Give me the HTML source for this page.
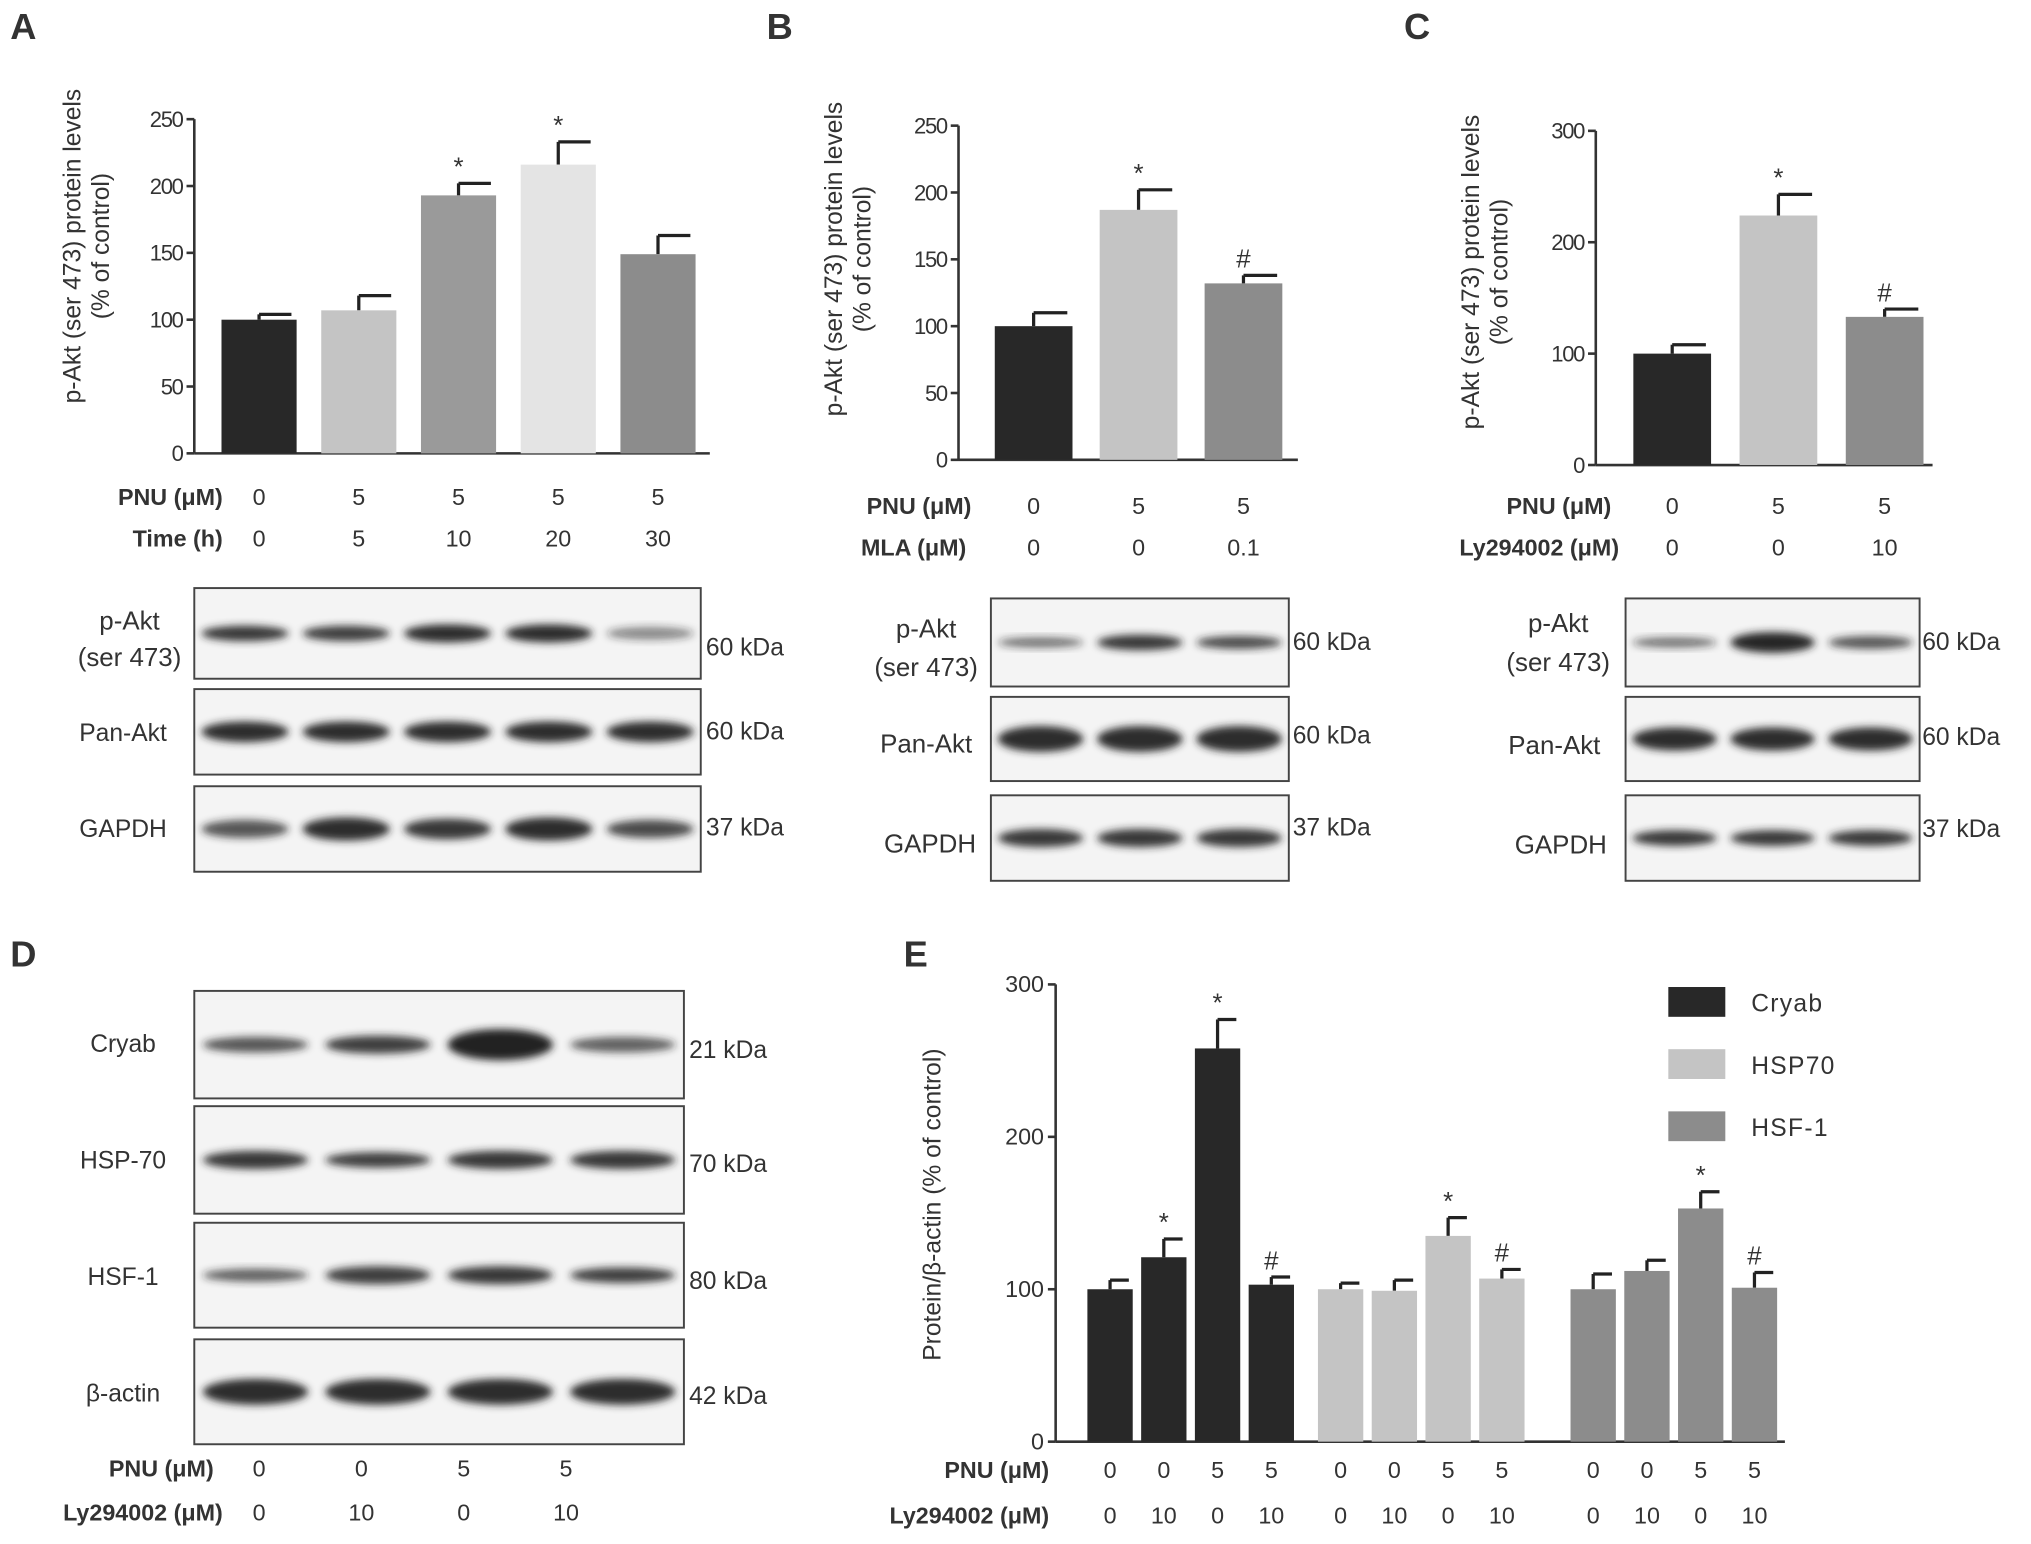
<!DOCTYPE html>
<html><head><meta charset="utf-8">
<style>
html,body{margin:0;padding:0;background:#fff;}
svg{display:block;font-family:"Liberation Sans",Arial,sans-serif;}
text{fill:#333;}
</style></head>
<body>
<svg id="fig" width="2031" height="1544" viewBox="0 0 1568 1192" xmlns="http://www.w3.org/2000/svg">
<defs><filter id="blur" x="-20%" y="-50%" width="140%" height="200%"><feGaussianBlur stdDeviation="3"/></filter></defs>
</svg>
<script>
// ---- Data ----
const aCategories = ['0|0','5|5','5|10','5|20','5|30'];
const aValues = [100, 107, 193, 216, 149];
const aErrors = [4, 11, 9, 17, 14];
const aStars = ['', '', '*', '*', ''];
const aTicks = [0, 50, 100, 150, 200, 250];

const bCategories = ['0|0','5|0','5|0.1'];
const bValues = [100, 187, 132];
const bErrors = [10, 15, 6];
const bStars = ['', '*', '#'];
const bTicks = [0, 50, 100, 150, 200, 250];

const cCategories = ['0|0','5|0','5|10'];
const cValues = [100, 224, 133];
const cErrors = [8, 19, 7];
const cStars = ['', '*', '#'];
const cTicks = [0, 100, 200, 300];

const eGroups = ['Cryab', 'HSP70', 'HSF-1'];
const eCryab = [100, 121, 258, 103];
const eCryabErr = [6, 12, 19, 5];
const eHsp70 = [100, 99, 135, 107];
const eHsp70Err = [4, 7, 12, 6];
const eHsf1 = [100, 112, 153, 101];
const eHsf1Err = [10, 7, 11, 10];
const eMarks = ['', '*', '*', '#'];
const eMarks2 = ['', '', '*', '#'];
const eTicks = [0, 100, 200, 300];
const ePnu = ['0','0','5','5'];
const eLy = ['0','10','0','10'];

const svg = document.getElementById('fig');
const NS = 'http://www.w3.org/2000/svg';
function el(tag, attrs, parent){
  const e = document.createElementNS(NS, tag);
  for (const k in attrs) e.setAttribute(k, attrs[k]);
  (parent||svg).appendChild(e);
  return e;
}
function txt(x,y,s,size,anchor,name,extra){
  const t = el('text',Object.assign({x:x,y:y,'font-size':size,'text-anchor':anchor||'middle'},extra||{}));
  t.textContent = s;
  
  
  return t;
}

function barChart(cfg){
  const g = el('g',{});
  
  
  const y = v => cfg.y0 - (v - 0) / cfg.max * (cfg.y0 - cfg.yTop);
  // axes
  el('line',{x1:cfg.x0,y1:cfg.yTop,x2:cfg.x0,y2:cfg.y0,stroke:'#333','stroke-width':2},g);
  el('line',{x1:cfg.x0,y1:cfg.y0,x2:cfg.xEnd,y2:cfg.y0,stroke:'#333','stroke-width':2},g);
  cfg.ticks.forEach(t=>{
    el('line',{x1:cfg.x0-6,y1:y(t),x2:cfg.x0,y2:y(t),stroke:'#333','stroke-width':2},g);
    const tt = txt(cfg.x0-9,y(t)+6,String(t),17,'end','y-tick-label',{'letter-spacing':'-1'});
    g.appendChild(tt);
  });
  cfg.values.forEach((v,i)=>{
    const cx = cfg.xFirst + i*cfg.step;
    const top = y(v), etop = y(v+cfg.errors[i]);
    el('line',{x1:cx,y1:top,x2:cx,y2:etop,stroke:'#222','stroke-width':2.5},g);
    el('line',{x1:cx,y1:etop,x2:cx+cfg.bw/2-4,y2:etop,stroke:'#222','stroke-width':2.5},g);
    const r = el('rect',{x:cx-cfg.bw/2,y:top,width:cfg.bw,height:cfg.y0-top,fill:cfg.colors[i]},g);
    
    
    if (cfg.stars[i]) g.appendChild(txt(cx, etop-6, cfg.stars[i], 20, 'middle', 'significance-mark'));
  });
  return g;
}

function blot(x,y,w,h,bands,name){
  const g = el('g',{});
  
  
  el('rect',{x:x,y:y,width:w,height:h,fill:'#f4f4f4',stroke:'#444','stroke-width':1.5},g);
  const n = bands.length, lw = w/n;
  bands.forEach((b,i)=>{
    const cx = x + lw*(i+0.5);
    el('ellipse',{cx:cx,cy:y+h/2,rx:lw*0.43,ry:b[1],fill:'#222','fill-opacity':b[0],filter:'url(#blur)'},g);
  });
}

// panel letters
[['A',18,30],['B',602,30],['C',1094,30],['D',18,746],['E',707,746]].forEach(p=>{
  txt(p[1],p[2],p[0],28,'middle','panel-label-'+p[0].toLowerCase(),{'font-weight':'bold','fill':'#333'});
});

function yTitle(x,yc,name,lines){
  const t = el('text',{transform:'translate('+x+','+yc+') rotate(-90)','font-size':19,'text-anchor':'middle'});
  
  
  lines.forEach((l,i)=>{const s=el('tspan',{x:0,dy:i?22:0},t);s.textContent=l;});
}

// ---- Panel A ----
barChart({name:'chart-a',x0:150,xEnd:548,y0:350,yTop:92,max:250,ticks:aTicks,values:aValues,errors:aErrors,stars:aStars,
  xFirst:200,step:77,bw:58,colors:['#282828','#c4c4c4','#9a9a9a','#e4e4e4','#8c8c8c']});
yTitle(62,190,'y-axis-title-a',['p-Akt (ser 473) protein levels','(% of control)']);
txt(172,390,'PNU (μM)',18,'end','pnu-label-a',{'font-weight':'bold'});
txt(172,422,'Time (h)',18,'end','time-label-a',{'font-weight':'bold'});
aCategories.forEach((c,i)=>{const p=c.split('|');
  txt(200+i*77,390,p[0],18,'middle','pnu-value');txt(200+i*77,422,p[1],18,'middle','time-value');});
blot(150,454,391,70,[[0.9,6],[0.85,6],[0.95,7],[0.95,7],[0.5,5]],'blot-a-pakt');
blot(150,532,391,66,[[0.95,8],[0.95,8],[0.95,8],[0.95,8],[0.95,8]],'blot-a-panakt');
blot(150,607,391,66,[[0.75,7],[0.95,9],[0.9,8],[0.95,9],[0.8,7]],'blot-a-gapdh');
txt(100,486,'p-Akt',20,'middle','row-label');txt(100,514,'(ser 473)',20,'middle','row-label');
txt(95,572,'Pan-Akt',19,'middle','row-label');txt(95,646,'GAPDH',19,'middle','row-label');
txt(545,506,'60 kDa',19,'start','kda-label');txt(545,571,'60 kDa',19,'start','kda-label');txt(545,645,'37 kDa',19,'start','kda-label');

// ---- Panel B ----
barChart({name:'chart-b',x0:740,xEnd:1002,y0:355,yTop:97,max:250,ticks:bTicks,values:bValues,errors:bErrors,stars:bStars,
  xFirst:798,step:81,bw:60,colors:['#282828','#c4c4c4','#8c8c8c']});
yTitle(650,200,'y-axis-title-b',['p-Akt (ser 473) protein levels','(% of control)']);
txt(750,397,'PNU (μM)',18,'end','pnu-label-b',{'font-weight':'bold'});
txt(746,429,'MLA (μM)',18,'end','mla-label-b',{'font-weight':'bold'});
bCategories.forEach((c,i)=>{const p=c.split('|');
  txt(798+i*81,397,p[0],18,'middle','pnu-value');txt(798+i*81,429,p[1],18,'middle','mla-value');});
blot(765,462,230,68,[[0.6,4],[0.9,6],[0.8,5]],'blot-b-pakt');
blot(765,538,230,65,[[0.95,10],[0.95,10],[0.95,10]],'blot-b-panakt');
blot(765,614,230,66,[[0.9,7],[0.9,7],[0.9,7]],'blot-b-gapdh');
txt(715,492,'p-Akt',20,'middle','row-label');txt(715,522,'(ser 473)',20,'middle','row-label');
txt(715,581,'Pan-Akt',20,'middle','row-label');txt(718,658,'GAPDH',20,'middle','row-label');
txt(998,502,'60 kDa',19,'start','kda-label');txt(998,574,'60 kDa',19,'start','kda-label');txt(998,645,'37 kDa',19,'start','kda-label');

// ---- Panel C ----
barChart({name:'chart-c',x0:1232,xEnd:1492,y0:359,yTop:101,max:300,ticks:cTicks,values:cValues,errors:cErrors,stars:cStars,
  xFirst:1291,step:82,bw:60,colors:['#282828','#c4c4c4','#8c8c8c']});
yTitle(1142,210,'y-axis-title-c',['p-Akt (ser 473) protein levels','(% of control)']);
txt(1244,397,'PNU (μM)',18,'end','pnu-label-c',{'font-weight':'bold'});
txt(1250,429,'Ly294002 (μM)',18,'end','ly-label-c',{'font-weight':'bold'});
cCategories.forEach((c,i)=>{const p=c.split('|');
  txt(1291+i*82,397,p[0],18,'middle','pnu-value');txt(1291+i*82,429,p[1],18,'middle','ly-value');});
blot(1255,462,227,68,[[0.6,4],[0.98,8],[0.75,5]],'blot-c-pakt');
blot(1255,538,227,65,[[0.95,9],[0.95,9],[0.95,9]],'blot-c-panakt');
blot(1255,614,227,66,[[0.9,6],[0.9,6],[0.9,6]],'blot-c-gapdh');
txt(1203,488,'p-Akt',20,'middle','row-label');txt(1203,518,'(ser 473)',20,'middle','row-label');
txt(1200,582,'Pan-Akt',20,'middle','row-label');txt(1205,659,'GAPDH',20,'middle','row-label');
txt(1484,502,'60 kDa',19,'start','kda-label');txt(1484,575,'60 kDa',19,'start','kda-label');txt(1484,646,'37 kDa',19,'start','kda-label');

// ---- Panel D ----
blot(150,765,378,83,[[0.75,6],[0.85,7],[1,12],[0.7,6]],'blot-d-cryab');
blot(150,854,378,83,[[0.9,7],[0.85,6],[0.9,7],[0.9,7]],'blot-d-hsp70');
blot(150,944,378,81,[[0.7,5],[0.85,7],[0.9,7],[0.85,6]],'blot-d-hsf1');
blot(150,1034,378,81,[[0.95,10],[0.95,10],[0.95,10],[0.95,10]],'blot-d-actin');
txt(95,812,'Cryab',19,'middle','row-label');txt(95,902,'HSP-70',19,'middle','row-label');
txt(95,992,'HSF-1',19,'middle','row-label');txt(95,1082,'β-actin',19,'middle','row-label');
txt(532,817,'21 kDa',19,'start','kda-label');txt(532,905,'70 kDa',19,'start','kda-label');
txt(532,995,'80 kDa',19,'start','kda-label');txt(532,1084,'42 kDa',19,'start','kda-label');
txt(165,1140,'PNU (μM)',18,'end','pnu-label-d',{'font-weight':'bold'});
txt(172,1174,'Ly294002 (μM)',18,'end','ly-label-d',{'font-weight':'bold'});
ePnu.forEach((p,i)=>{txt(200+i*79,1140,p,18,'middle','pnu-value');txt(200+i*79,1174,eLy[i],18,'middle','ly-value');});

// ---- Panel E ----
(function(){
  const x0=815,y0=1113,yTop=760,max=300,bw=35;
  const y = v => y0 - v/max*(y0-yTop);
  const g = el('g',{});
  
  
  el('line',{x1:x0,y1:yTop,x2:x0,y2:y0,stroke:'#333','stroke-width':2},g);
  el('line',{x1:x0,y1:y0,x2:1378,y2:y0,stroke:'#333','stroke-width':2},g);
  eTicks.forEach(t=>{
    el('line',{x1:x0-6,y1:y(t),x2:x0,y2:y(t),stroke:'#333','stroke-width':2},g);
    g.appendChild(txt(x0-9,y(t)+6,String(t),18,'end','y-tick-label'));
  });
  const series=[eCryab,eHsp70,eHsf1], errs=[eCryabErr,eHsp70Err,eHsf1Err], marks=[eMarks,eMarks2,eMarks2];
  const colors=['#282828','#c4c4c4','#8c8c8c'], starts=[857,1035,1230], step=41.5;
  series.forEach((vals,s)=>{
    vals.forEach((v,i)=>{
      const cx=starts[s]+i*step, top=y(v), et=y(v+errs[s][i]);
      el('line',{x1:cx,y1:top,x2:cx,y2:et,stroke:'#222','stroke-width':2.5},g);
      el('line',{x1:cx,y1:et,x2:cx+bw/2-3,y2:et,stroke:'#222','stroke-width':2.5},g);
      const r=el('rect',{x:cx-bw/2,y:top,width:bw,height:y0-top,fill:colors[s]},g);
      
      
      if(marks[s][i]) g.appendChild(txt(cx,et-6,marks[s][i],20,'middle','significance-mark'));
      txt(cx,1141,ePnu[i],18,'middle','pnu-value');
      txt(cx,1176,eLy[i],18,'middle','ly-value');
    });
    const sw=el('rect',{x:1288,y:762+s*48,width:44,height:23,fill:colors[s]});
    
    
    txt(1352,781+s*48,eGroups[s],19,'start','legend-entry',{'letter-spacing':'1'});
  });
  txt(810,1141,'PNU (μM)',18,'end','pnu-label-e',{'font-weight':'bold'});
  txt(810,1176,'Ly294002 (μM)',18,'end','ly-label-e',{'font-weight':'bold'});
  yTitle(726,930,'y-axis-title-e',['Protein/β-actin (% of control)']);
})();
</script>
</body></html>
